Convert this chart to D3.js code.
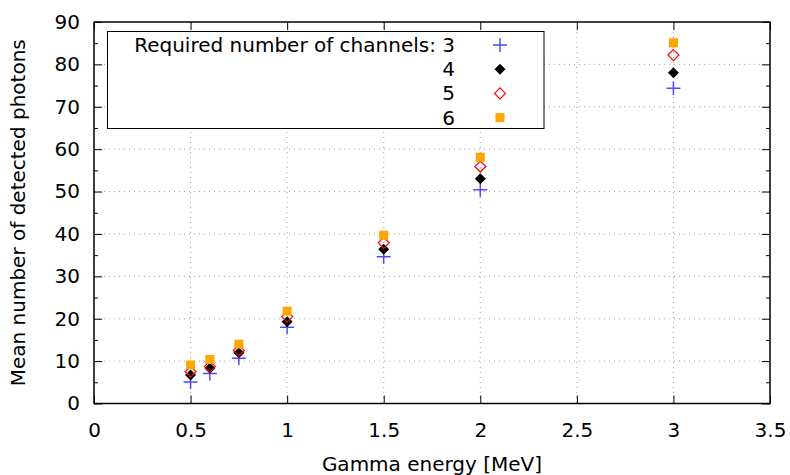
<!DOCTYPE html>
<html>
<head>
<meta charset="utf-8">
<script src="https://cdn.jsdelivr.net/npm/d3@7"></script>
<style>
  body { margin: 0; background: #fff; }
  text { font-family: "DejaVu Sans", sans-serif; }
</style>
</head>
<body>
<div id="container"></div>
<script>
// chart size
const w = 790
const h = 475
const margin = { top: 22, right: 20, bottom: 71.5, left: 94 }

// data
const energies = [0.5, 0.6, 0.75, 1, 1.5, 2, 3]
const channels = ['3', '4', '5', '6']
const ch3 = [5.1, 7.1, 10.7, 18.0, 34.6, 50.4, 74.4]
const ch4 = [6.7, 8.3, 12.0, 19.3, 36.4, 53.0, 78.0]
const ch5 = [7.5, 8.7, 12.5, 20.5, 37.9, 55.9, 82.2]
const ch6 = [9.1, 10.4, 14.0, 21.8, 39.7, 58.1, 85.1]
const xTicks = [0, 0.5, 1, 1.5, 2, 2.5, 3, 3.5]
const yTicks = [0, 10, 20, 30, 40, 50, 60, 70, 80, 90]

const seriesList = [ch3, ch4, ch5, ch6]
const fs = 20

const iw = w - margin.left - margin.right
const ih = h - margin.top - margin.bottom

const x = d3.scaleLinear().domain([0, 3.5]).range([0, iw])
const y = d3.scaleLinear().domain([0, 90]).range([ih, 0])

const svg = d3.select('#container')
    .append('svg')
    .attr('width', w)
    .attr('height', h)

const g = svg.append('g')
    .attr('transform', 'translate(' + margin.left + ',' + margin.top + ')')

// grid
g.append('g')
    .selectAll('line.gx')
    .data(xTicks.slice(1, -1))
    .enter()
    .append('line')
    .attr('x1', d => x(d)).attr('x2', d => x(d))
    .attr('y1', 0).attr('y2', ih)
    .attr('stroke', '#a0a0a0')
    .attr('stroke-width', 1)
    .attr('stroke-dasharray', '1,4')

g.append('g')
    .selectAll('line.gy')
    .data(yTicks.slice(1, -1))
    .enter()
    .append('line')
    .attr('x1', 0).attr('x2', iw)
    .attr('y1', d => y(d)).attr('y2', d => y(d))
    .attr('stroke', '#a0a0a0')
    .attr('stroke-width', 1)
    .attr('stroke-dasharray', '1,4')

// axes: ticks point inward, mirrored on top/right
const tickStyle = sel => {
    sel.select('.domain').remove()
    sel.selectAll('line').attr('stroke', '#000')
    sel.selectAll('text').attr('font-size', fs).attr('fill', '#000')
}

g.append('g')
    .attr('transform', 'translate(0,' + ih + ')')
    .call(d3.axisBottom(x).tickValues(xTicks).tickSize(-8).tickPadding(19).tickFormat(d3.format('')))
    .call(tickStyle)

g.append('g')
    .call(d3.axisTop(x).tickValues(xTicks).tickSize(-8).tickFormat(''))
    .call(tickStyle)

g.append('g')
    .call(d3.axisLeft(y).tickValues(yTicks).tickSize(-8).tickPadding(14))
    .call(tickStyle)

g.append('g')
    .attr('transform', 'translate(' + iw + ',0)')
    .call(d3.axisRight(y).tickValues(yTicks).tickSize(-8).tickFormat(''))
    .call(tickStyle)

// minor y ticks
const minorY = d3.range(5, 90, 10)
g.append('g')
    .call(d3.axisLeft(y).tickValues(minorY).tickSize(-4).tickFormat(''))
    .call(tickStyle)
g.append('g')
    .attr('transform', 'translate(' + iw + ',0)')
    .call(d3.axisRight(y).tickValues(minorY).tickSize(-4).tickFormat(''))
    .call(tickStyle)

// frame
g.append('rect')
    .attr('width', iw)
    .attr('height', ih)
    .attr('fill', 'none')
    .attr('stroke', '#000')
    .attr('stroke-width', 1.5)

// markers
function drawMarker(sel, k) {
    if (k === 0) {
        sel.append('path')
            .attr('d', 'M-7,0H7M0,-7V7')
            .attr('stroke', '#4d4dff')
            .attr('stroke-width', 1.5)
            .attr('fill', 'none')
    } else if (k === 1) {
        sel.append('path')
            .attr('d', 'M0,-5.5L5.5,0L0,5.5L-5.5,0Z')
            .attr('fill', '#000')
    } else if (k === 2) {
        sel.append('path')
            .attr('d', 'M0,-5.5L5.5,0L0,5.5L-5.5,0Z')
            .attr('fill', 'none')
            .attr('stroke', '#ff0000')
            .attr('stroke-width', 1.2)
    } else {
        sel.append('rect')
            .attr('x', -4.5).attr('y', -4.5)
            .attr('width', 9).attr('height', 9)
            .attr('fill', '#ffa500')
    }
}

// legend box (opaque)
const legend = svg.append('g')
legend.append('rect')
    .attr('x', 107.5).attr('y', 31.5)
    .attr('width', 436.5).attr('height', 97)
    .attr('fill', '#fff')
    .attr('stroke', '#000')
    .attr('stroke-width', 1)

channels.forEach(function(ch, k) {
    const ly = 45 + k * 24.2
    legend.append('text')
        .attr('x', 455)
        .attr('y', ly)
        .attr('dy', '0.35em')
        .attr('text-anchor', 'end')
        .attr('font-size', fs)
        .text(k === 0 ? 'Required number of channels: ' + ch : ch)
    const m = legend.append('g').attr('transform', 'translate(500,' + ly + ')')
    drawMarker(m, k)
})

// points
seriesList.forEach(function(vals, k) {
    g.append('g')
        .selectAll('g.pt')
        .data(vals)
        .enter()
        .append('g')
        .attr('transform', (d, i) => 'translate(' + x(energies[i]) + ',' + y(d) + ')')
        .each(function() { drawMarker(d3.select(this), k) })
})

// axis titles
svg.append('text')
    .attr('x', margin.left + iw / 2)
    .attr('y', 464)
    .attr('dy', '0.35em')
    .attr('text-anchor', 'middle')
    .attr('font-size', fs)
    .text('Gamma energy [MeV]')

svg.append('text')
    .attr('transform', 'translate(18,' + (margin.top + ih / 2) + ') rotate(-90)')
    .attr('dy', '0.35em')
    .attr('text-anchor', 'middle')
    .attr('font-size', fs)
    .text('Mean number of detected photons')
</script>
</body>
</html>
